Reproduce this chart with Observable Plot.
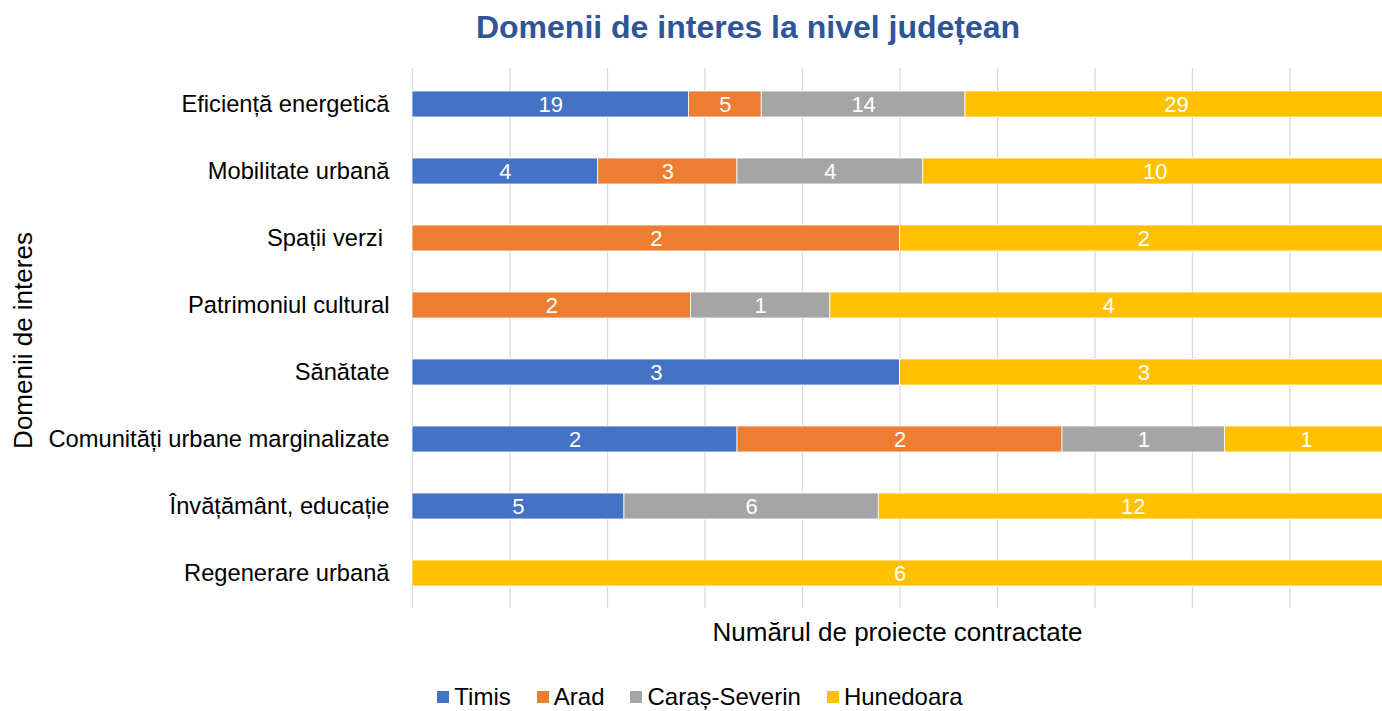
<!DOCTYPE html>
<html>
<head>
<meta charset="utf-8">
<script src="https://cdn.jsdelivr.net/npm/d3@7"></script>
<script src="https://cdn.jsdelivr.net/npm/@observablehq/plot@0.6"></script>
<style>
  html, body { margin: 0; padding: 0; background: #fff; overflow: hidden; }
  body { width: 1382px; height: 711px; position: relative; font-family: "Liberation Sans", Arial, sans-serif; }
  #title { position: absolute; left: 0; top: 8px; width: 1496px; text-align: center; font-weight: bold; font-size: 32px; color: #2F5597; line-height: 38px; }
  #chart { position: absolute; left: 0; top: 55px; }
  #legend { position: absolute; left: 0; top: 684px; width: 1400px; display: flex; justify-content: center; align-items: center; font-size: 24px; color: #000; line-height: 26px; }
  .item { display: flex; align-items: center; margin: 0 13px; }
  .sw { width: 12px; height: 12px; margin-right: 5px; }
</style>
</head>
<body>
<div id="title"></div>
<div id="chart"></div>
<div id="legend"></div>
<script>
const titleText = "Domenii de interes la nivel județean";
const xTitle = "Numărul de proiecte contractate";
const yTitle = "Domenii de interes";

const categories = [
  "Eficiență energetică",
  "Mobilitate urbană",
  "Spații verzi ",
  "Patrimoniul cultural",
  "Sănătate",
  "Comunități urbane marginalizate",
  "Învățământ, educație",
  "Regenerare urbană"
];
const series = ["Timis", "Arad", "Caraș-Severin", "Hunedoara"];
const colors = ["#4472C4", "#ED7D31", "#A5A5A5", "#FFC000"];

const timis     = [19, 4, 0, 0, 3, 2, 5, 0];
const arad      = [5, 3, 2, 2, 0, 2, 0, 0];
const carasSev  = [14, 4, 0, 1, 0, 1, 6, 0];
const hunedoara = [29, 10, 2, 4, 3, 1, 12, 6];

const gridTicks = [0, 0.1, 0.2, 0.3, 0.4, 0.5, 0.6, 0.7, 0.8, 0.9, 1];

const valuesBySeries = [timis, arad, carasSev, hunedoara];
const data = [];
categories.forEach((c, i) => {
  series.forEach((s, j) => {
    const v = valuesBySeries[j][i];
    if (v > 0) data.push({category: c, series: s, value: v});
  });
});

document.getElementById("title").textContent = titleText;

const stackOpts = {x: "value", y: "category", z: "series", offset: "normalize"};

const chart = Plot.plot({
  width: 1382,
  height: 600,
  marginTop: 13,
  marginBottom: 47,
  marginLeft: 412,
  marginRight: 0,
  style: {fontFamily: "Liberation Sans, Arial, sans-serif", fontSize: "23.5px", color: "#000", background: "#fff"},
  x: {domain: [0, 1], range: [412, 1387], axis: null},
  y: {domain: categories, paddingInner: 0.615, paddingOuter: 0.3075, label: null},
  color: {domain: series, range: colors},
  marks: [
    Plot.ruleX(gridTicks, {stroke: "#d9d9d9", strokeWidth: 1.3}),
    Plot.barX(data, Plot.stackX({...stackOpts, fill: "series", stroke: "white", strokeWidth: 0.8})),
    Plot.text(data, Plot.stackX({...stackOpts, text: "value", fill: "white", fontSize: 22})),
    Plot.axisY({tickSize: 0, tickPadding: 23, fontSize: 23.7, fill: "#000", label: null}),
    Plot.text([xTitle], {frameAnchor: "bottom", dy: 24, lineAnchor: "middle", fontSize: 26, fill: "#000"}),
    Plot.text([yTitle], {frameAnchor: "left", rotate: -90, dx: -389, dy: 2, textAnchor: "middle", lineAnchor: "middle", fontSize: 26, fill: "#000"})
  ]
});
document.getElementById("chart").appendChild(chart);

const legend = document.getElementById("legend");
series.forEach((s, i) => {
  const item = document.createElement("div");
  item.className = "item";
  const sw = document.createElement("div");
  sw.className = "sw";
  sw.style.background = colors[i];
  const t = document.createElement("span");
  t.textContent = s;
  item.appendChild(sw);
  item.appendChild(t);
  legend.appendChild(item);
});
</script>
</body>
</html>
